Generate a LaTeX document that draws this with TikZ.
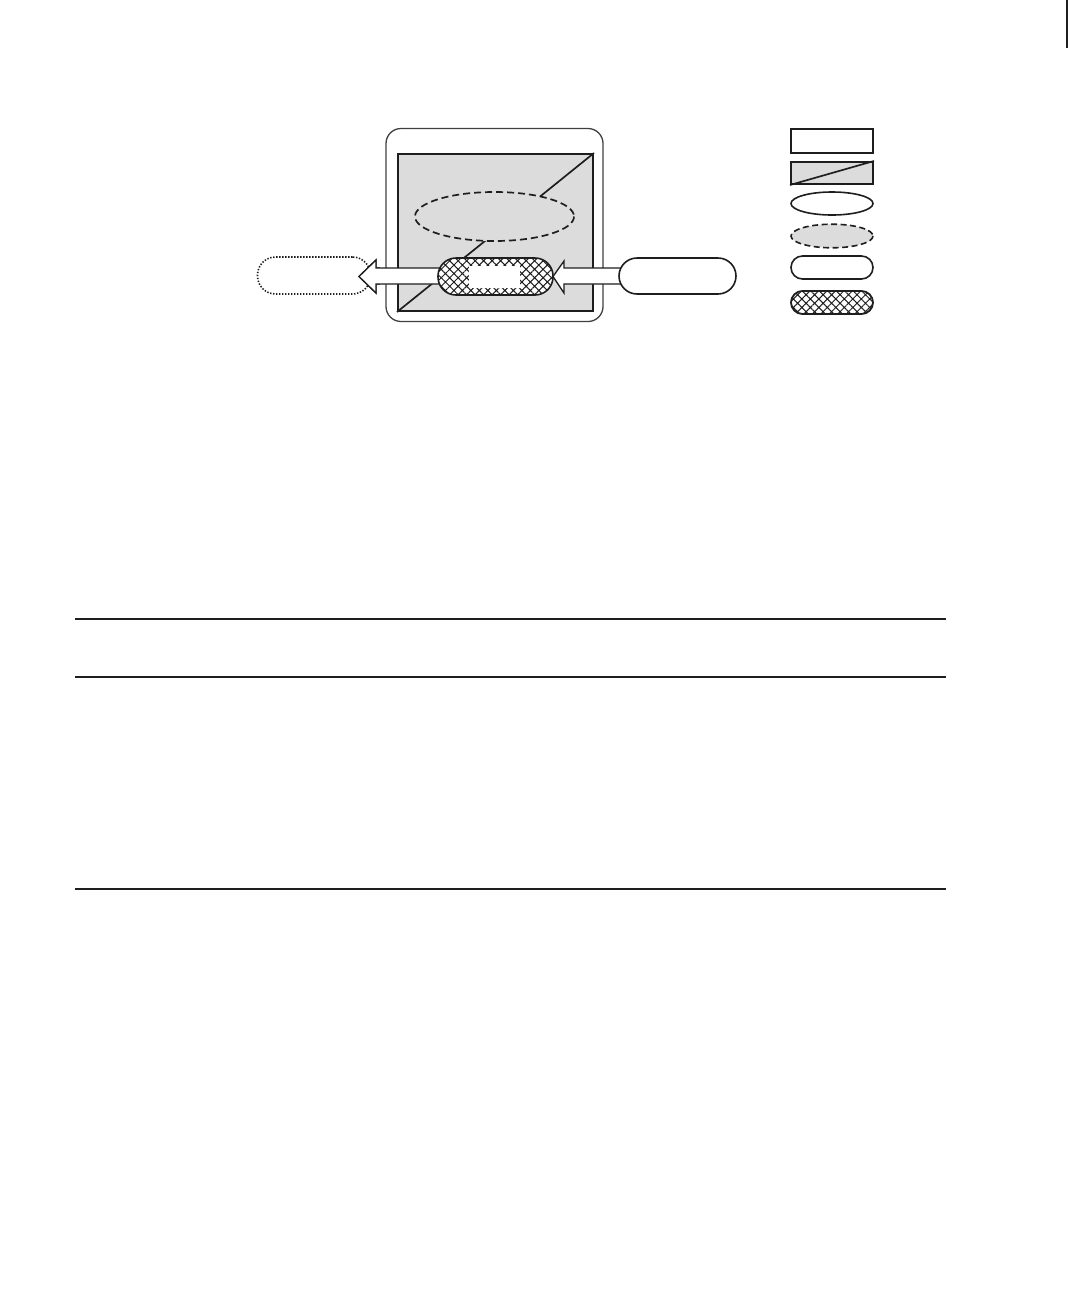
\documentclass[tikz,border=0pt]{standalone}
\usetikzlibrary{patterns.meta,shapes.geometric}
\definecolor{bggray}{HTML}{DCDCDC}
\definecolor{ink}{HTML}{1E1E1E}
\tikzset{
  x=1pt,y=-1pt,
  outline/.style={draw=ink,line width=2pt},
  hatchfill/.style={pattern={Hatch[angle=45,distance=6pt,line width=1pt]},pattern color=ink},
  bigarrow/.style={draw=ink,line width=1.3pt,fill=white,line join=miter},
  rule/.style={draw=ink,line width=2.4pt},
}
\begin{document}
\begin{tikzpicture}
\useasboundingbox (0,0) rectangle (1080,1296);
% top-right margin mark
\draw[ink,line width=1.4pt] (1067,0) -- (1067,48);

% outer frame
\node[draw=ink!85,line width=1.3pt,rounded corners=15pt,minimum width=217pt,minimum height=193pt,inner sep=0pt] (frame) at (494.5,225) {};
% inner gray square
\node[outline,fill=bggray,minimum width=195pt,minimum height=157pt,inner sep=0pt] (sq) at (495.5,232.5) {};
\draw[ink,line width=1.7pt] (sq.south west) -- (sq.north east);
% dashed ellipse
\draw[ink,line width=1.7pt,dash pattern=on 7pt off 4pt,fill=bggray] (494.5,216.5) ellipse [x radius=79.5, y radius=24.5];
\coordinate (ell) at (494.5,216.5);

% hollow arrows
\draw[bigarrow] (445,268) -- (376,268) -- (376,260) -- (359,276.5) -- (376,293) -- (376,284) -- (445,284);
\draw[bigarrow] (625,268) -- (564,268) -- (564,261) -- (553,276.5) -- (564,293) -- (564,284) -- (625,284);

% hatched pill
\node[draw=none,fill=white,rounded corners=18pt,minimum width=115pt,minimum height=37pt,inner sep=0pt] (hp) at (495.5,276.5) {};
\fill[hatchfill,rounded corners=18pt] (438,258) rectangle (553,295);
\draw[ink,line width=1.6pt,rounded corners=18pt] (438,258) rectangle (553,295);
\node[fill=white,minimum width=51pt,minimum height=22pt,inner sep=0pt] (hole) at (494.5,276.5) {};

% dotted pill (left)
\node[draw=ink,line width=1.6pt,dash pattern=on 1.4pt off 1.6pt,rounded corners=18pt,minimum width=113pt,minimum height=37pt,inner sep=0pt] (dp) at (314,275.5) {};
% redraw left arrow head over dotted pill
\draw[bigarrow] (380,268) -- (376,268) -- (376,260) -- (359,276.5) -- (376,293) -- (376,284) -- (380,284);
% right pill
\node[draw=ink,line width=1.6pt,fill=white,rounded corners=18pt,minimum width=117pt,minimum height=36pt,inner sep=0pt] (rp) at (677.5,276) {};

% legend
\node[outline,minimum width=82pt,minimum height=24pt,inner sep=0pt] (l1) at (832,141) {};
\node[outline,fill=bggray,minimum width=82pt,minimum height=22pt,inner sep=0pt] (l2) at (832,173) {};
\draw[ink,line width=1.7pt] (l2.south west) -- (l2.north east);
\node[draw=ink,line width=1.6pt,ellipse,minimum width=82pt,minimum height=23pt,inner sep=0pt] (l3) at (832,203.5) {};
\draw[ink,line width=1.6pt,dash pattern=on 6pt off 3.5pt,fill=bggray] (832,236) ellipse [x radius=41, y radius=11.8];
\coordinate (l4) at (832,236);
\node[draw=ink,line width=1.6pt,rounded corners=11.5pt,minimum width=82pt,minimum height=23pt,inner sep=0pt] (l5) at (832,267.5) {};
\fill[hatchfill,rounded corners=11.5pt] (791,291) rectangle (873,314);
\draw[ink,line width=1.8pt,rounded corners=11.5pt] (791,291) rectangle (873,314);
\coordinate (l6) at (832,302.5);

% rules
\draw[rule] (75,619) -- (946,619);
\draw[rule] (75,677) -- (946,677);
\draw[rule] (75,889) -- (946,889);
\end{tikzpicture}
\end{document}
